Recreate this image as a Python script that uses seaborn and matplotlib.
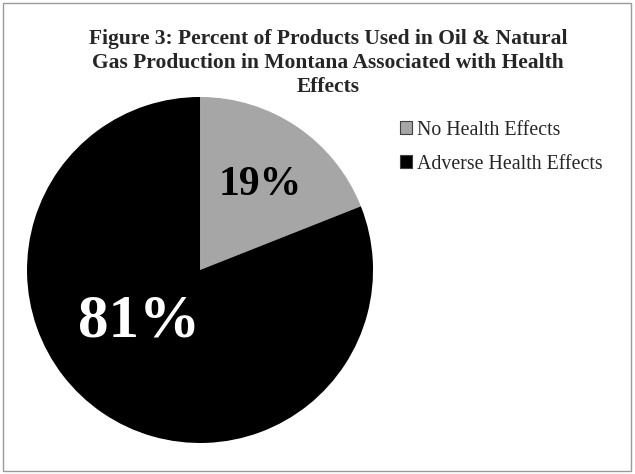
import seaborn as sns
import matplotlib.pyplot as plt
from matplotlib.patches import Patch, Rectangle

categories = ["No Health Effects", "Adverse Health Effects"]
percents = [19, 81]
slice_colors = ["#a6a6a6", "#000000"]
title = ("Figure 3: Percent of Products Used in Oil & Natural\n"
         "Gas Production in Montana Associated with Health\n"
         "Effects")

sns.set_style("white")
plt.rcParams["font.family"] = ["Liberation Serif", "DejaVu Serif"]

fig = plt.figure(figsize=(6.35, 4.74), dpi=100)
fig.patches.append(Rectangle((0.005, 0.006), 0.988, 0.987, transform=fig.transFigure,
                             fill=False, edgecolor="#9a9a9a", linewidth=1.0))

ax = fig.add_axes([0.0425, 0.0654, 0.545, 0.730])
wedges, texts = ax.pie(percents, colors=slice_colors, startangle=90, counterclock=False,
                       wedgeprops=dict(linewidth=0))
ax.set_xlim(-1, 1)
ax.set_ylim(-1, 1)
ax.set_aspect("equal")

# percentage labels
ax.text(0.35, 0.49, f"{percents[0]}%", ha="center", va="center",
        fontsize=30, fontweight="bold", color="black")
ax.text(-0.35, -0.30, f"{percents[1]}%", ha="center", va="center",
        fontsize=44, fontweight="bold", color="white")

fig.text(0.517, 0.938, title, ha="center", va="top", fontsize=15.5,
         fontweight="bold", linespacing=1.25)

handles = [Patch(facecolor=c, edgecolor="#404040", linewidth=0.8) for c in slice_colors]
fig.legend(handles, categories, loc="upper left", bbox_to_anchor=(0.602, 0.783),
           frameon=False, fontsize=14.3, handlelength=0.6, handleheight=0.6,
           handletextpad=0.25, labelspacing=0.75)

fig.savefig("out.png", dpi=100)
